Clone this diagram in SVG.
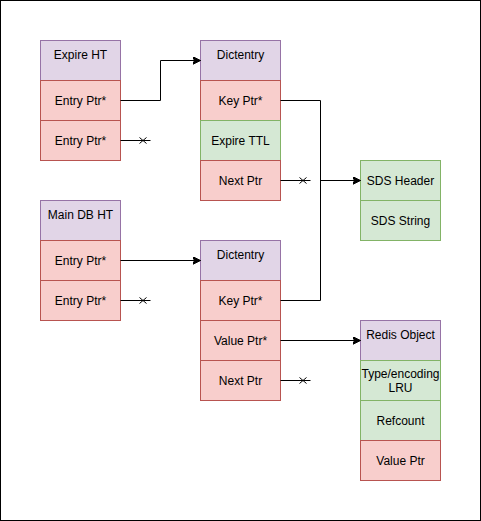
<svg xmlns="http://www.w3.org/2000/svg" width="481" height="521" viewBox="0 0 481 521">
<style>
.p{fill:#e1d5e7;stroke:#9673a6;stroke-width:1}
.r{fill:#f8cecc;stroke:#b85450;stroke-width:1}
.g{fill:#d5e8d4;stroke:#82b366;stroke-width:1}
text{font-family:"Liberation Sans",Arial,sans-serif;font-size:12px;fill:#000;text-anchor:middle}
.c{fill:none;stroke:#000;stroke-width:1}
</style>
<defs>
<marker id="ah" markerWidth="10" markerHeight="10" refX="8" refY="4" orient="auto" markerUnits="userSpaceOnUse">
<path d="M0,0 L8,4 L0,8 L2,4 Z" fill="#000" stroke="#000" stroke-width="1"/>
</marker>
</defs>
<rect x="0.5" y="0.5" width="480" height="520" fill="#fff" stroke="#000"/>
<g transform="translate(0.5,0.5)">
<g id="expire-ht">
<rect class="p" x="40" y="40" width="80" height="40"/><text x="80" y="58">Expire HT</text>
<rect class="r" x="40" y="80" width="80" height="40"/><text x="80" y="104">Entry Ptr*</text>
<rect class="r" x="40" y="120" width="80" height="40"/><text x="80" y="144">Entry Ptr*</text>
</g>
<g id="dictentry1">
<rect class="p" x="200" y="40" width="80" height="40"/><text x="240" y="58">Dictentry</text>
<rect class="r" x="200" y="80" width="80" height="40"/><text x="240" y="104">Key Ptr*</text>
<rect class="g" x="200" y="120" width="80" height="40"/><text x="240" y="144">Expire TTL</text>
<rect class="r" x="200" y="160" width="80" height="40"/><text x="240" y="184">Next Ptr</text>
</g>
<g id="sds">
<rect class="g" x="360" y="160" width="80" height="40"/><text x="400" y="184">SDS Header</text>
<rect class="g" x="360" y="200" width="80" height="40"/><text x="400" y="224">SDS String</text>
</g>
<g id="main-db-ht">
<rect class="p" x="40" y="200" width="80" height="40"/><text x="80" y="218">Main DB HT</text>
<rect class="r" x="40" y="240" width="80" height="40"/><text x="80" y="264">Entry Ptr*</text>
<rect class="r" x="40" y="280" width="80" height="40"/><text x="80" y="304">Entry Ptr*</text>
</g>
<g id="dictentry2">
<rect class="p" x="200" y="240" width="80" height="40"/><text x="240" y="258">Dictentry</text>
<rect class="r" x="200" y="280" width="80" height="40"/><text x="240" y="304">Key Ptr*</text>
<rect class="r" x="200" y="320" width="80" height="40"/><text x="240" y="344">Value Ptr*</text>
<rect class="r" x="200" y="360" width="80" height="40"/><text x="240" y="384">Next Ptr</text>
</g>
<g id="redis-object">
<rect class="p" x="360" y="320" width="80" height="40"/><text x="400" y="338">Redis Object</text>
<rect class="g" x="360" y="360" width="80" height="40"/><text x="400" y="377">Type/encoding</text><text x="400" y="391">LRU</text>
<rect class="g" x="360" y="400" width="80" height="40"/><text x="400" y="424">Refcount</text>
<rect class="r" x="360" y="440" width="80" height="40"/><text x="400" y="464">Value Ptr</text>
</g>
<g id="connectors">
<path class="c" d="M120,100 H160 V60 H200" marker-end="url(#ah)"/>
<path class="c" d="M120,140 H150 M139,137 L146,143 M139,143 L146,137"/>
<path class="c" d="M280,100 H320 V300 H280"/>
<path class="c" d="M320,180 H360" marker-end="url(#ah)"/>
<path class="c" d="M280,180 H310 M299,177 L306,183 M299,183 L306,177"/>
<path class="c" d="M120,260 H200" marker-end="url(#ah)"/>
<path class="c" d="M120,300 H150 M139,297 L146,303 M139,303 L146,297"/>
<path class="c" d="M280,340 H360" marker-end="url(#ah)"/>
<path class="c" d="M280,380 H310 M299,377 L306,383 M299,383 L306,377"/>
</g>
</g>
</svg>
